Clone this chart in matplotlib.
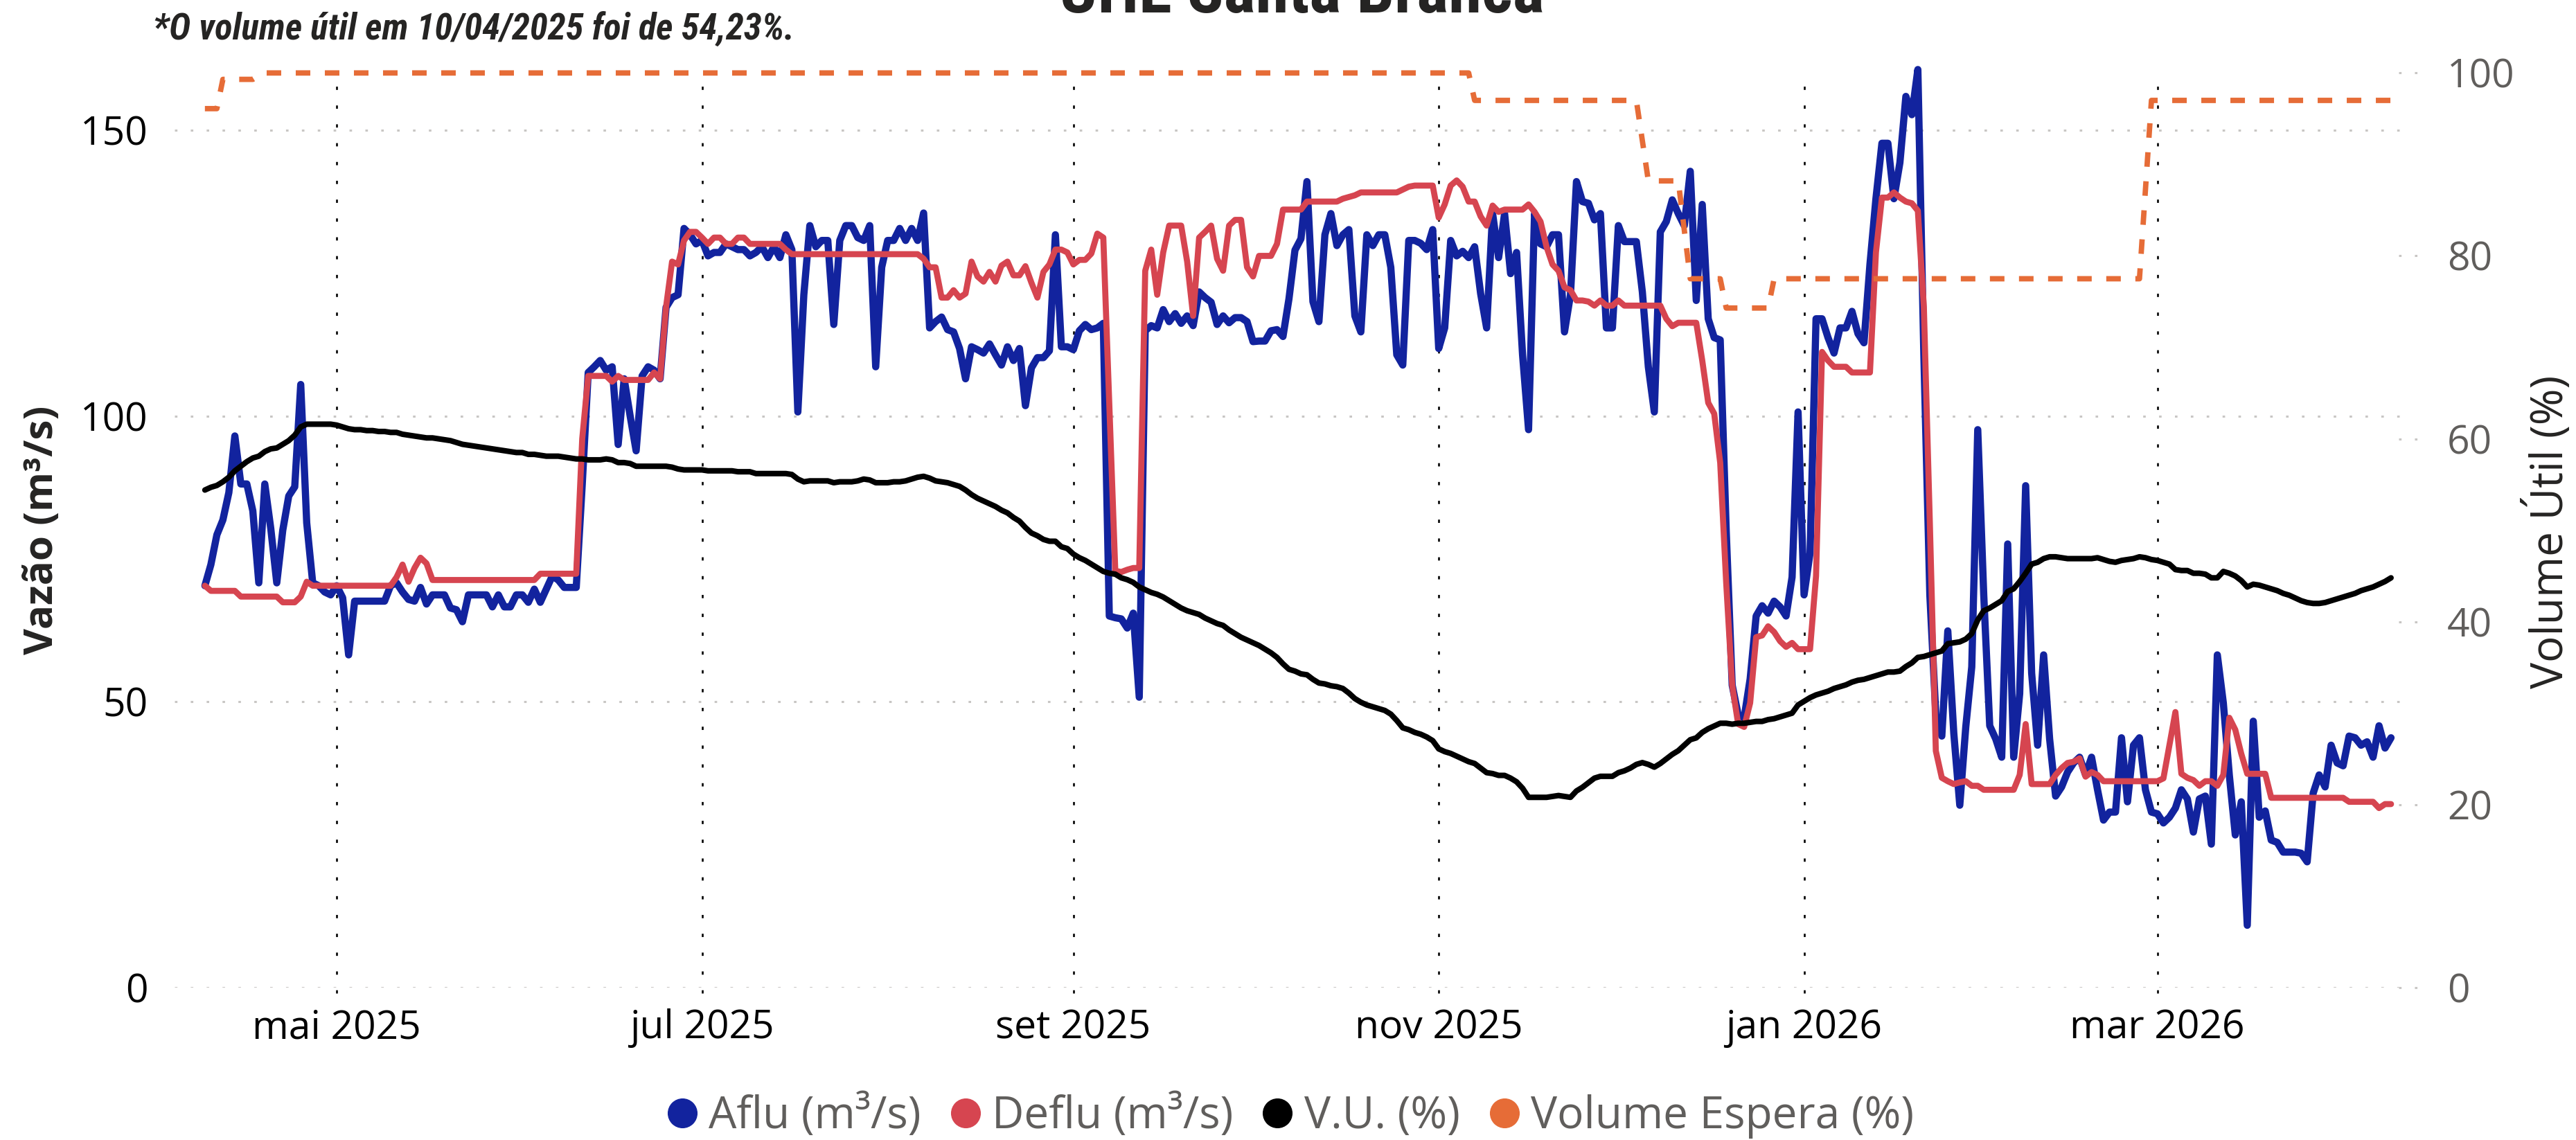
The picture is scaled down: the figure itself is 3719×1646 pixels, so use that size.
import numpy as np
import pandas as pd
import matplotlib
matplotlib.use('Agg')
import matplotlib.pyplot as plt
import matplotlib.dates as mdates
from matplotlib import font_manager
from matplotlib.lines import Line2D

# %% dados (vazões diárias em m³/s e volume útil em %)
inicio = pd.Timestamp('2025-04-09')

aflu = [70.3, 74.0, 79.2, 81.8, 86.6, 96.5, 88.1, 88.1, 83.4, 70.8,
        88.1, 80.3, 70.8, 80.0, 86.0, 87.6, 105.5, 81.3, 70.8, 70.3,
        69.2, 68.7, 70.3, 68.2, 58.2, 67.6, 67.6, 67.6, 67.6, 67.6,
        67.6, 70.3, 70.8, 69.2, 67.9, 67.6, 70.0, 67.1, 68.7, 68.7,
        68.7, 66.4, 66.1, 64.0, 68.7, 68.7, 68.7, 68.7, 66.6, 68.7,
        66.6, 66.6, 68.7, 68.7, 67.4, 69.7, 67.4, 69.7, 72.0, 71.3,
        70.0, 70.0, 70.0, 88.0, 107.6, 108.6, 109.7, 108.0, 108.6, 95.0,
        106.5, 100.0, 93.9, 107.0, 108.6, 108.0, 106.5, 119.0, 120.7, 121.2,
        132.8, 131.7, 130.1, 130.7, 128.0, 128.6, 128.6, 130.1, 129.6, 129.1,
        129.1, 128.0, 128.6, 129.6, 127.7, 129.6, 127.7, 131.7, 129.1, 100.7,
        121.2, 133.3, 129.6, 130.7, 130.7, 116.0, 130.7, 133.3, 133.3, 131.2,
        130.7, 133.3, 108.6, 126.0, 130.7, 130.7, 132.8, 130.7, 132.8, 130.7,
        135.5, 115.4, 116.5, 117.3, 115.1, 114.7, 111.8, 106.5, 112.1, 111.6,
        111.0, 112.6, 110.7, 108.9, 112.1, 109.7, 111.8, 101.8, 108.4, 110.2,
        110.2, 111.4, 131.7, 112.1, 112.1, 111.6, 114.9, 116.0, 115.1, 115.4,
        116.2, 65.0, 64.7, 64.5, 62.9, 65.5, 50.8, 114.9, 115.8, 115.4,
        118.6, 116.5, 117.9, 116.2, 117.5, 115.8, 121.7, 120.7, 119.9, 116.0,
        117.5, 116.3, 117.2, 117.2, 116.5, 113.0, 113.1, 113.1, 114.9, 115.1,
        113.9, 120.5, 129.0, 131.0, 141.0, 120.0, 116.5, 131.7, 135.4, 129.8,
        131.7, 132.6, 117.5, 114.7, 131.7, 129.8, 131.7, 131.7, 126.0, 110.7,
        108.9, 130.7, 130.7, 130.2, 129.1, 132.6, 111.8, 115.4, 130.7, 128.0,
        128.8, 127.7, 129.6, 121.4, 115.4, 135.4, 127.7, 135.4, 124.9, 128.6,
        110.7, 97.6, 135.4, 130.1, 129.6, 131.7, 131.7, 114.7, 121.2, 141.0,
        137.5, 137.2, 134.3, 135.4, 115.4, 115.4, 133.3, 130.5, 130.5, 130.5,
        121.7, 108.6, 100.7, 132.2, 134.0, 137.8, 135.4, 133.3, 142.8, 120.2,
        137.0, 117.0, 113.7, 113.3, 80.0, 52.9, 47.7, 47.2, 54.0, 65.0,
        66.8, 65.5, 67.6, 66.6, 65.0, 71.8, 100.7, 68.7, 76.0, 117.0,
        117.0, 113.7, 111.0, 115.4, 115.4, 118.3, 114.4, 112.8, 126.5, 138.0,
        147.7, 147.7, 138.0, 144.3, 155.9, 152.7, 160.6, 110.7, 68.7, 47.7,
        44.0, 62.4, 44.5, 31.9, 45.6, 56.1, 97.6, 68.7, 45.8, 43.5,
        40.3, 77.6, 40.3, 51.4, 87.8, 55.0, 42.4, 58.2, 43.5, 33.5,
        35.1, 37.7, 39.3, 40.3, 37.2, 40.3, 34.6, 29.3, 30.7, 30.7,
        43.7, 32.5, 42.4, 43.7, 34.6, 30.7, 30.4, 28.8, 29.8, 31.4,
        34.6, 33.0, 27.2, 33.0, 33.5, 25.1, 58.2, 49.8, 37.2, 26.7,
        32.5, 10.9, 46.6, 29.8, 30.9, 25.8, 25.4, 23.7, 23.7, 23.7,
        23.5, 22.0, 34.0, 37.2, 35.1, 42.4, 39.3, 38.8, 44.0, 43.7,
        42.4, 43.0, 40.3, 45.8, 41.9, 43.7]

deflu = [70.3, 69.4, 69.4, 69.4, 69.4, 69.4, 68.4, 68.4, 68.4, 68.4,
         68.4, 68.4, 68.4, 67.4, 67.4, 67.4, 68.4, 71.0, 70.3, 70.3,
         70.3, 70.3, 70.3, 70.3, 70.3, 70.3, 70.3, 70.3, 70.3, 70.3,
         70.3, 70.3, 71.8, 74.0, 71.0, 73.4, 75.2, 74.2, 71.3, 71.3,
         71.3, 71.3, 71.3, 71.3, 71.3, 71.3, 71.3, 71.3, 71.3, 71.3,
         71.3, 71.3, 71.3, 71.3, 71.3, 71.3, 72.4, 72.4, 72.4, 72.4,
         72.4, 72.4, 72.4, 96.0, 107.0, 107.0, 107.0, 107.0, 106.0, 107.0,
         106.3, 106.3, 106.3, 106.3, 106.3, 107.6, 106.5, 119.1, 127.0, 126.5,
         130.7, 132.2, 132.2, 131.2, 130.1, 131.2, 131.2, 130.1, 130.1, 131.2,
         131.2, 130.1, 130.1, 130.1, 130.1, 130.1, 130.1, 129.1, 128.3, 128.3,
         128.3, 128.3, 128.3, 128.3, 128.3, 128.3, 128.3, 128.3, 128.3, 128.3,
         128.3, 128.3, 128.3, 128.3, 128.3, 128.3, 128.3, 128.3, 128.3, 128.3,
         127.5, 126.0, 126.0, 120.7, 120.7, 122.0, 120.7, 121.4, 127.0, 124.4,
         123.5, 125.2, 123.5, 126.3, 127.0, 124.6, 124.6, 126.2, 123.3, 120.7,
         125.2, 126.5, 129.1, 129.1, 128.6, 126.5, 127.3, 127.3, 128.4, 131.9,
         131.2, 102.0, 72.9, 72.7, 73.1, 73.4, 73.4, 125.4, 129.1, 121.2,
         128.6, 133.3, 133.3, 133.3, 127.0, 117.5, 131.2, 132.2, 133.3, 127.5,
         125.4, 133.3, 134.3, 134.3, 126.0, 124.4, 128.0, 128.0, 128.0, 130.1,
         136.1, 136.1, 136.1, 136.1, 137.5, 137.5, 137.5, 137.5, 137.5, 137.5,
         138.0, 138.3, 138.6, 139.1, 139.1, 139.1, 139.1, 139.1, 139.1, 139.1,
         139.6, 140.1, 140.3, 140.3, 140.3, 140.3, 134.7, 137.0, 140.3, 141.2,
         140.1, 137.5, 137.5, 134.9, 133.3, 136.8, 135.7, 136.1, 136.1, 136.1,
         136.1, 137.0, 135.7, 134.0, 129.6, 126.5, 125.4, 122.5, 122.0, 120.2,
         120.2, 120.0, 119.3, 120.2, 119.3, 119.3, 120.2, 119.3, 119.3, 119.3,
         119.3, 119.3, 119.3, 119.3, 117.0, 115.7, 116.3, 116.3, 116.3, 116.3,
         109.7, 102.3, 100.4, 91.8, 70.8, 52.9, 46.1, 45.6, 49.8, 61.3,
         61.6, 63.2, 62.2, 60.6, 59.6, 60.3, 59.2, 59.2, 59.2, 72.0,
         111.2, 109.7, 108.6, 108.6, 108.6, 107.6, 107.6, 107.6, 107.6, 128.6,
         138.2, 138.2, 139.1, 138.2, 137.5, 137.2, 135.9, 119.1, 81.3, 41.4,
         36.7, 36.1, 35.6, 35.9, 36.1, 35.3, 35.3, 34.6, 34.6, 34.6,
         34.6, 34.6, 34.6, 37.2, 46.1, 35.6, 35.6, 35.6, 35.6, 37.2,
         38.4, 39.3, 39.5, 40.1, 36.9, 37.7, 37.2, 36.1, 36.1, 36.1,
         36.1, 36.1, 36.1, 36.1, 36.1, 36.1, 36.1, 36.6, 42.4, 48.2,
         37.4, 36.7, 36.3, 35.3, 36.1, 36.1, 35.3, 37.2, 47.2, 45.1,
         40.9, 37.4, 37.4, 37.4, 37.4, 33.2, 33.2, 33.2, 33.2, 33.2,
         33.2, 33.2, 33.2, 33.2, 33.2, 33.2, 33.2, 33.2, 32.5, 32.5,
         32.5, 32.5, 32.5, 31.4, 32.1, 32.1]

vu = [54.4, 54.7, 54.9, 55.3, 55.8, 56.5, 57.0, 57.5, 57.9, 58.1,
      58.6, 58.9, 59.0, 59.4, 59.8, 60.4, 61.3, 61.6, 61.6, 61.6,
      61.6, 61.6, 61.5, 61.3, 61.1, 61.0, 61.0, 60.9, 60.9, 60.8,
      60.8, 60.7, 60.7, 60.5, 60.4, 60.3, 60.2, 60.1, 60.1, 60.0,
      59.9, 59.8, 59.6, 59.4, 59.3, 59.2, 59.1, 59.0, 58.9, 58.8,
      58.7, 58.6, 58.5, 58.5, 58.3, 58.3, 58.2, 58.1, 58.1, 58.1,
      58.0, 57.9, 57.8, 57.8, 57.7, 57.7, 57.7, 57.8, 57.7, 57.4,
      57.4, 57.3, 57.0, 57.0, 57.0, 57.0, 57.0, 57.0, 56.9, 56.7,
      56.6, 56.6, 56.6, 56.6, 56.5, 56.5, 56.5, 56.5, 56.5, 56.4,
      56.4, 56.4, 56.2, 56.2, 56.2, 56.2, 56.2, 56.2, 56.1, 55.6,
      55.3, 55.4, 55.4, 55.4, 55.4, 55.2, 55.3, 55.3, 55.3, 55.4,
      55.6, 55.5, 55.2, 55.2, 55.2, 55.3, 55.3, 55.4, 55.6, 55.8,
      55.9, 55.7, 55.4, 55.3, 55.2, 55.0, 54.8, 54.4, 53.9, 53.5,
      53.2, 52.9, 52.6, 52.2, 51.9, 51.4, 51.0, 50.3, 49.7, 49.4,
      49.0, 48.8, 48.8, 48.2, 48.0, 47.4, 47.0, 46.7, 46.3, 45.9,
      45.5, 45.3, 45.2, 44.8, 44.6, 44.3, 43.8, 43.5, 43.2, 43.0,
      42.7, 42.3, 41.9, 41.5, 41.2, 41.0, 40.8, 40.4, 40.1, 39.8,
      39.6, 39.1, 38.7, 38.3, 38.0, 37.7, 37.4, 37.0, 36.6, 36.1,
      35.4, 34.8, 34.6, 34.3, 34.2, 33.7, 33.3, 33.2, 33.0, 32.9,
      32.7, 32.2, 31.6, 31.2, 30.9, 30.7, 30.5, 30.3, 29.9, 29.2,
      28.4, 28.2, 27.9, 27.7, 27.4, 27.0, 26.1, 25.8, 25.6, 25.3,
      25.0, 24.7, 24.5, 24.0, 23.5, 23.4, 23.2, 23.2, 22.9, 22.5,
      21.8, 20.8, 20.8, 20.8, 20.8, 20.9, 21.0, 20.9, 20.8, 21.5,
      21.9, 22.4, 22.9, 23.1, 23.1, 23.1, 23.5, 23.7, 24.0, 24.4,
      24.6, 24.4, 24.1, 24.5, 25.0, 25.5, 25.9, 26.5, 27.1, 27.3,
      27.9, 28.3, 28.6, 28.9, 28.9, 28.8, 28.9, 28.9, 29.0, 29.1,
      29.1, 29.3, 29.4, 29.6, 29.8, 30.0, 30.9, 31.3, 31.7, 32.0,
      32.2, 32.4, 32.7, 32.9, 33.1, 33.4, 33.6, 33.7, 33.9, 34.1,
      34.3, 34.5, 34.5, 34.6, 35.1, 35.5, 36.1, 36.2, 36.4, 36.6,
      36.8, 37.6, 37.7, 37.8, 38.1, 38.7, 40.2, 41.2, 41.5, 41.9,
      42.3, 43.3, 43.6, 44.4, 45.3, 46.3, 46.5, 46.9, 47.1, 47.1,
      47.0, 46.9, 46.9, 46.9, 46.9, 46.9, 47.0, 46.8, 46.6, 46.5,
      46.7, 46.8, 46.9, 47.1, 47.0, 46.8, 46.7, 46.5, 46.3, 45.7,
      45.6, 45.6, 45.3, 45.3, 45.2, 44.8, 44.8, 45.5, 45.3, 45.0,
      44.5, 43.8, 44.1, 44.0, 43.8, 43.6, 43.4, 43.1, 42.9, 42.6,
      42.3, 42.1, 42.0, 42.0, 42.1, 42.3, 42.5, 42.7, 42.9, 43.1,
      43.4, 43.6, 43.8, 44.1, 44.4, 44.8]

# volume de espera: só os vértices da linha (dia desde o início, %)
espera_dia = [0, 2, 3, 8, 9, 10, 211, 212, 239, 241, 246, 248, 253, 254, 261, 262, 323, 325, 365]
espera = [96.1, 96.1, 99.3, 99.3, 99.7, 100, 100, 97, 97, 88.2, 88.2, 77.5, 77.5, 74.3, 74.3, 77.5, 77.5, 97, 97]

meses = ['2025-05-01', '2025-07-01', '2025-09-01', '2025-11-01', '2026-01-01', '2026-03-01']
meses_rot = ['mai 2025', 'jul 2025', 'set 2025', 'nov 2025', 'jan 2026', 'mar 2026']
ticks_vazao = [0, 50, 100, 150]
ticks_vol = [0, 20, 40, 60, 80, 100]

series = ['Aflu (m³/s)', 'Deflu (m³/s)', 'V.U. (%)', 'Volume Espera (%)']
cores = ['#12239E', '#D64550', '#000000', '#E66C37']

# %% fontes
nomes = {f.name for f in font_manager.fontManager.ttflist}
def fonte(*opcoes):
    for o in opcoes:
        if o in nomes:
            return o
    return 'DejaVu Sans'

f_txt = fonte('Open Sans', 'Noto Sans', 'Lato')
f_cond = fonte('Liberation Sans Narrow', 'Roboto Condensed', 'Noto Sans Condensed', 'Roboto', 'Open Sans')
plt.rcParams['font.family'] = [f_txt, 'DejaVu Sans']

# %% figura
datas = mdates.date2num(inicio + pd.to_timedelta(np.arange(len(aflu)), unit='D'))
datas_esp = mdates.date2num(inicio + pd.to_timedelta(espera_dia, unit='D'))

fig = plt.figure(figsize=(37.19, 16.46), dpi=100)
ax = fig.add_axes([0.0678, 0.1337, 0.8669, 0.8023])
ax2 = ax.twinx()

ax.plot(datas, aflu, color=cores[0], lw=7.5, solid_joinstyle='round', solid_capstyle='round', clip_on=False, zorder=3)
ax.plot(datas, deflu, color=cores[1], lw=6.3, solid_joinstyle='round', solid_capstyle='round', clip_on=False, zorder=4)
ax2.plot(datas, vu, color=cores[2], lw=5.8, solid_joinstyle='round', solid_capstyle='round', clip_on=False)
ax2.plot(datas_esp, espera, color=cores[3], lw=5.6, linestyle=(0, (2.7, 2.7)), clip_on=False)

xmin = mdates.date2num(inicio) - 5.05
xmax = mdates.date2num(inicio) + 367.8
ax.set_xlim(xmin, xmax)
ax.set_ylim(0, 160)
ax2.set_ylim(0, 100)

# grade horizontal pontilhada (eixo da vazão)
for v in ticks_vazao:
    ax.axhline(v, color='#C8C6C4', lw=2.2, linestyle=(0, (1.2, 6.3)), zorder=1)
# pequenos traços do eixo secundário
for v in ticks_vol:
    ax2.plot([0.996, 1.005], [v, v], transform=ax2.get_yaxis_transform(), color='#C8C6C4',
             lw=2.2, linestyle=(0, (1.2, 6.3)), clip_on=False)
# linhas verticais dos meses
for m in meses:
    ax.axvline(mdates.date2num(pd.Timestamp(m)), ymin=-0.006, ymax=0.997, color='black', lw=1.9,
               linestyle=(0, (1.8, 8.5)), clip_on=False, zorder=2)

ax.set_xticks([mdates.date2num(pd.Timestamp(m)) for m in meses])
ax.set_xticklabels(meses_rot)
ax.set_yticks(ticks_vazao)
ax2.set_yticks(ticks_vol)
ax.tick_params(axis='x', length=0, pad=22, labelsize=41, labelcolor='black')
ax.tick_params(axis='y', length=0, pad=28, labelsize=41, labelcolor='black')
ax2.tick_params(axis='y', length=0, pad=41, labelsize=41, labelcolor='#605E5C')
for a in (ax, ax2):
    for s in a.spines.values():
        s.set_visible(False)

# títulos (o título fica cortado no topo, como no original)
fig.text(0.5052, 1 - 18 / 1646, 'UHE Santa Branca', ha='center', va='baseline',
         fontsize=70, fontweight='bold', family=f_cond, color='#252423')
fig.text(221 / 3719, 1 - 57 / 1646, '*O volume útil em 10/04/2025 foi de 54,23%.', ha='left', va='baseline',
         fontsize=38, fontweight='bold', fontstyle='italic', family=f_cond, color='#252423')
fig.text(0.0164, 0.535, 'Vazão (m³/s)', rotation=90, ha='center', va='center',
         fontsize=42, fontweight='bold', color='#252423')
fig.text(3700 / 3719, 1 - 768 / 1646, 'Volume Útil (%)', rotation=90, rotation_mode='anchor',
         ha='center', va='baseline', fontsize=46, color='#252423')

# legenda
marcas = [Line2D([], [], marker='o', linestyle='', markersize=30, color=c) for c in cores]
fig.legend(marcas, series, loc='center', bbox_to_anchor=(0.5009, 1 - 1612 / 1646), ncol=4,
           frameon=False, fontsize=46, labelcolor='#605E5C', handlelength=0.7,
           handletextpad=0.25, columnspacing=0.65, borderaxespad=0, borderpad=0)

fig.savefig('out.png', dpi=100, facecolor='white')
